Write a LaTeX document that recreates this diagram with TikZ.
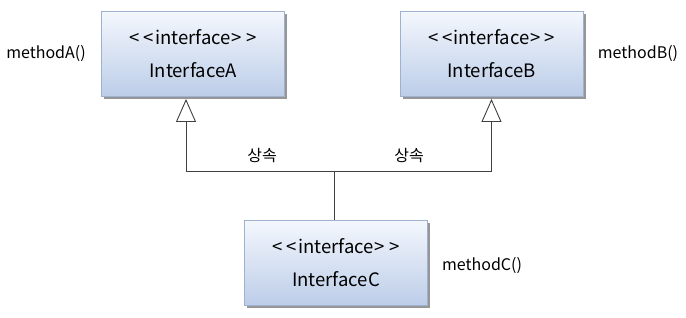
\documentclass[tikz,border=0pt]{standalone}
\usepackage{fontspec}
\setmainfont{Noto Sans CJK KR}
\usetikzlibrary{arrows.meta,shadows,positioning,calc}

\definecolor{boxtop}{RGB}{244,247,253}
\definecolor{boxbot}{RGB}{188,205,232}
\definecolor{boxline}{RGB}{158,178,208}
\definecolor{boxshade}{RGB}{150,150,150}

\newcommand{\stereo}{<\kern4pt<\kern1pt interface\kern1pt>\kern4pt>}

\tikzset{
  iface/.style={draw=boxline, line width=0.9pt, minimum width=183pt, minimum height=85pt,
    top color=boxtop, bottom color=boxbot, align=center, inner sep=0pt,
    drop shadow={shadow xshift=2.5pt, shadow yshift=-2.5pt, fill=boxshade, opacity=1},
    font=\fontsize{18.5}{33}\selectfont},
  inherit/.style={draw=black!75, line width=0.9pt},
  realize/.style={-{Triangle[open, width=20pt, length=23pt, line width=0.9pt]}},
  lbl/.style={font=\fontsize{16}{18}\selectfont}
}

\begin{document}
\begin{tikzpicture}[x=1pt,y=-1pt]
\useasboundingbox (0,0) rectangle (686,317);
\node[iface] (A) at (193,54) {\stereo\\InterfaceA};
\node[iface] (B) at (491.5,54) {\stereo\\InterfaceB};
\node[iface] (C) at (336,263) {\stereo\\InterfaceC};
\coordinate (j) at (334,171);
\draw[inherit,realize] (j) -| ([xshift=-7pt,yshift=-2pt]A.south);
\draw[inherit,realize] (j) -| ([yshift=-2pt]B.south);
\draw[inherit] (j) -- (C.north -| j);
\node[lbl] (ta) at (262,156) {상속};
\node[lbl] (tb) at (409,156) {상속};
\node[lbl] (ma) at (46,54) {methodA()};
\node[lbl] (mb) at (638,54) {methodB()};
\node[lbl] (mc) at (482,266) {methodC()};
\end{tikzpicture}
\end{document}
